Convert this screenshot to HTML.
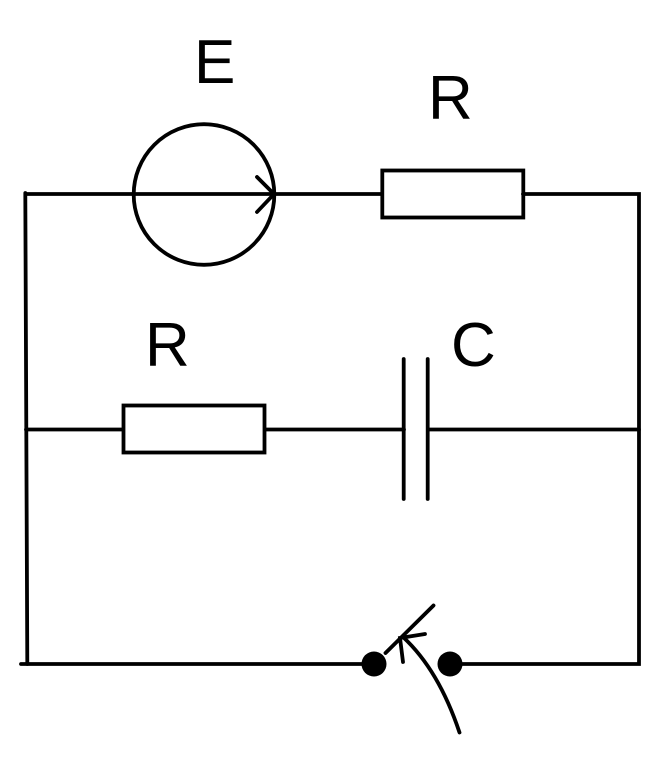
<!DOCTYPE html>
<html>
<head>
<meta charset="utf-8">
<style>
html,body{margin:0;padding:0;background:#fff;width:660px;height:758px;overflow:hidden}
svg{display:block}
text{font-family:"Liberation Sans",sans-serif;font-size:62px;fill:#000}
</style>
</head>
<body>
<svg width="660" height="758" viewBox="0 0 660 758">
<g fill="none" stroke="#000" stroke-width="3.800" stroke-linecap="round">
<path d="M25.300 193 L27.300 664"/>
<path d="M21 664 H374"/>
<path d="M450 664 H639 V194 H523"/>
<path d="M26 194 H382"/>
<rect x="382.300" y="170.500" width="141" height="47"/>
<circle cx="204" cy="194.500" r="70.300"/>
<path d="M257 177 L274 194 L257 212"/>
<path d="M26 429.500 H123"/>
<rect x="123.500" y="405.500" width="141" height="47"/>
<path d="M265 429.500 H404"/>
<path d="M403.700 359 V499"/>
<path d="M427.700 359 V499"/>
<path d="M428 429.500 H639"/>
<path d="M385.500 653 L433.500 605.500"/>
<path d="M403 637 C430 662 448 698 459.500 732.500"/>
<path d="M403 662 L400 638 L425 634"/>
</g>
<circle cx="374" cy="664" r="12.500" fill="#000"/>
<circle cx="450" cy="664" r="12.500" fill="#000"/>
<text x="194" y="83">E</text>
<text x="428" y="119">R</text>
<text x="145" y="366">R</text>
<text x="451" y="366">C</text>
</svg>
</body>
</html>
